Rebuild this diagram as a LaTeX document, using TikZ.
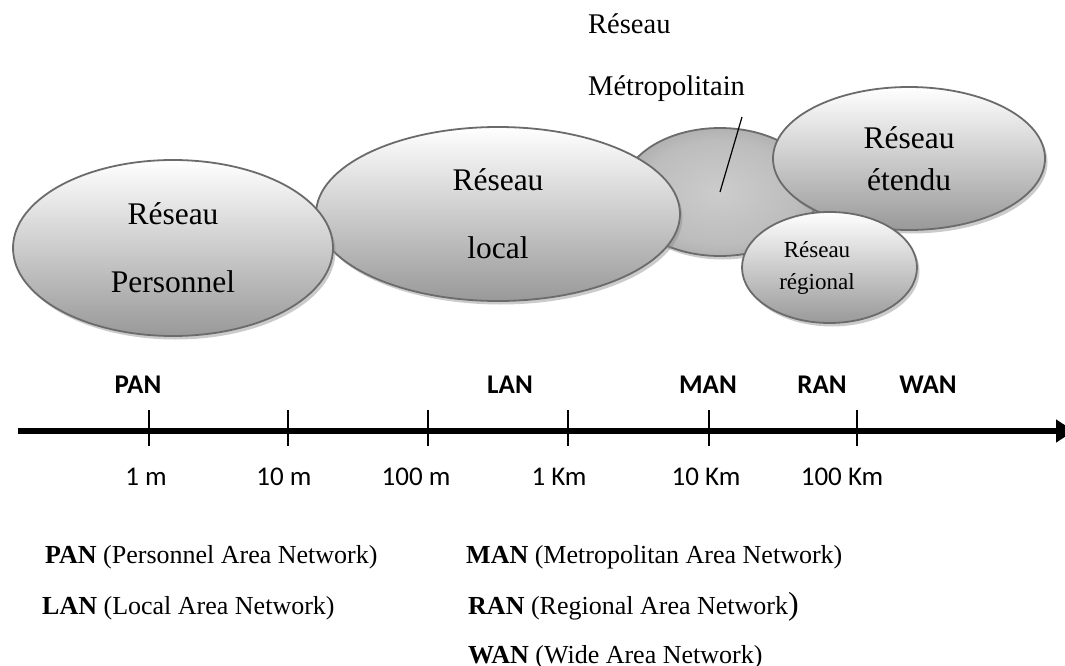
\documentclass[tikz,border=0pt]{standalone}
\usepackage{fontspec}
\setmainfont{Liberation Serif}
\newfontfamily\axisfont{Carlito}
\usetikzlibrary{shapes.geometric,shadows,arrows.meta}

% soft radial glow for the metropolitan zone
\pgfdeclareradialshading{manglow}{\pgfpoint{0bp}{0bp}}{%
  color(0bp)=(black!20); color(20bp)=(black!26); color(50bp)=(black!52)}

\begin{document}
\begin{tikzpicture}[x=1pt,y=-1pt,
  zone/.style={ellipse, draw=black!58, line width=1.8pt, inner sep=0pt,
    align=center, top color=white, bottom color=black!40,
    drop shadow={shadow xshift=2.5pt, shadow yshift=-3.5pt,
                 fill=black!45, opacity=0.45}},
  bigtxt/.style={font=\fontsize{31.5}{68}\selectfont},
  scalelbl/.style={font=\axisfont\fontsize{27}{27}\selectfont, anchor=base},
  netlbl/.style={font=\axisfont\bfseries\fontsize{27}{27}\selectfont, anchor=base},
  legend/.style={font=\fontsize{26}{26}\selectfont, anchor=base west, inner sep=0pt},
  tick/.style={line width=1.3pt}]

\useasboundingbox (0,0) rectangle (1065,666);

% ---- network zones ----
\node[zone, shading=manglow, minimum width=196pt, minimum height=128pt]
  (man) at (720,192) {};
\node[align=left, anchor=west, inner sep=0pt,
      font=\fontsize{28.5}{62}\selectfont] (manlbl) at (588,58)
  {Réseau\\Métropolitain};
\coordinate (manptr) at (742,117);
\draw[line width=1.2pt] (manptr) -- (man.center);

\node[zone, bigtxt, minimum width=364pt, minimum height=174pt]
  (lan) at (498,214) {Réseau\\local};
\node[zone, bigtxt, minimum width=320pt, minimum height=176pt]
  (pan) at (173,248) {Réseau\\Personnel};
\node[zone, font=\fontsize{31.5}{42}\selectfont,
      minimum width=272pt, minimum height=143pt]
  (wan) at (909,158.5) {Réseau\\étendu};
\node[zone, minimum width=175pt, minimum height=111pt]
  (ran) at (829.5,267.5) {};
\node[align=center, inner sep=0pt, font=\fontsize{23}{32}\selectfont]
  (rantxt) at (817,268) {Réseau\\régional};

% ---- distance axis ----
\coordinate (axstart) at (18,431);
\coordinate (axend) at (1074,431);
\draw[line width=6pt, -{Triangle[length=18pt,width=22pt]}] (axstart) -- (axend);

\foreach \name/\xx/\lbl/\lx in {t1/149/1 m/146, t2/288/10 m/284, t3/428/100 m/416,
                                t4/568/1 Km/559, t5/709/10 Km/706, t6/857/100 Km/842}{
  \coordinate (\name) at (\xx,431);
  \draw[tick] (\name) ++(0,-21) -- ++(0,36);
  \node[scalelbl] (\name lbl) at (\lx,485) {\lbl};
}

\node[netlbl] (panlbl) at (138,393) {PAN};
\node[netlbl] (lanlbl) at (510,393) {LAN};
\node[netlbl] (manabbr) at (708,393) {MAN};
\node[netlbl] (ranlbl) at (822,393) {RAN};
\node[netlbl] (wanlbl) at (928,393) {WAN};

% ---- legend ----
\node[legend] (legpan) at (45,563) {\textbf{PAN} (Personnel Area Network)};
\node[legend] (leglan) at (42,614) {\textbf{LAN} (Local Area Network)};
\node[legend] (legman) at (466,563) {\textbf{MAN} (Metropolitan Area Network)};
\node[legend] (legran) at (468,614)
  {\textbf{RAN} (Regional Area Network{\fontsize{32}{32}\selectfont)}};
\node[legend] (legwan) at (468,663) {\textbf{WAN} (Wide Area Network)};

\end{tikzpicture}
\end{document}
